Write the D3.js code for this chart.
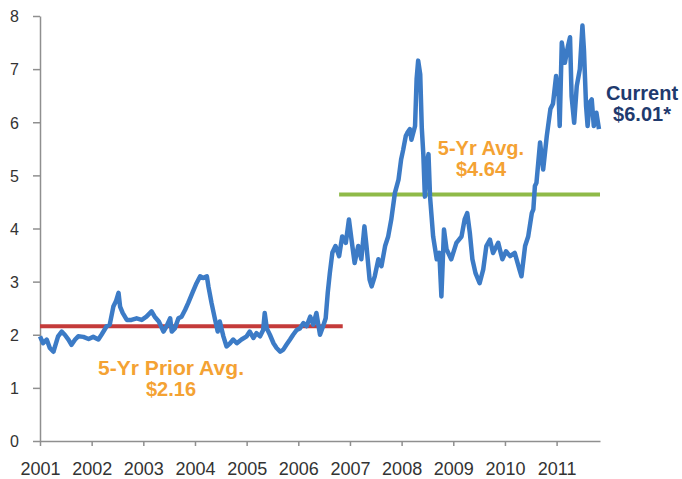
<!DOCTYPE html>
<html>
<head>
<meta charset="utf-8">
<script src="https://cdn.jsdelivr.net/npm/d3@7.9.0/dist/d3.min.js"></script>
<style>
  html, body { margin: 0; padding: 0; background: #fff; }
  svg { display: block; font-family: "Liberation Sans", Arial, sans-serif; }
  .axis path, .axis line { stroke: #8f8f8f; stroke-width: 1.5; }
  .axis text { fill: #333; }
</style>
</head>
<body>
<svg id="chart" width="682" height="479"></svg>
<script>
// price series (decimal year, $)
const years = [
  2001.00, 2001.06, 2001.13, 2001.19, 2001.26, 2001.30, 2001.35, 2001.42, 2001.48, 2001.55,
  2001.61, 2001.68, 2001.74, 2001.84, 2001.94, 2002.03, 2002.13, 2002.19, 2002.29, 2002.35,
  2002.42, 2002.47, 2002.52, 2002.55, 2002.60, 2002.68, 2002.77, 2002.87, 2002.97, 2003.06,
  2003.16, 2003.22, 2003.30, 2003.39, 2003.45, 2003.52, 2003.55, 2003.61, 2003.68, 2003.74,
  2003.81, 2003.87, 2003.95, 2004.03, 2004.10, 2004.16, 2004.23, 2004.26, 2004.32, 2004.39,
  2004.44, 2004.48, 2004.55, 2004.61, 2004.68, 2004.74, 2004.81, 2004.90, 2005.00, 2005.06,
  2005.13, 2005.19, 2005.26, 2005.32, 2005.35, 2005.39, 2005.45, 2005.52, 2005.58, 2005.65,
  2005.71, 2005.77, 2005.84, 2005.90, 2005.97, 2006.03, 2006.10, 2006.16, 2006.23, 2006.29,
  2006.35, 2006.42, 2006.48, 2006.53, 2006.57, 2006.61, 2006.66, 2006.72, 2006.79, 2006.85,
  2006.92, 2006.98, 2007.03, 2007.09, 2007.16, 2007.22, 2007.28, 2007.32, 2007.38, 2007.42,
  2007.48, 2007.55, 2007.61, 2007.68, 2007.74, 2007.80, 2007.87, 2007.94, 2007.99, 2008.03,
  2008.08, 2008.11, 2008.16, 2008.19, 2008.26, 2008.29, 2008.32, 2008.36, 2008.39, 2008.42,
  2008.45, 2008.48, 2008.52, 2008.55, 2008.61, 2008.68, 2008.73, 2008.77, 2008.82, 2008.87,
  2008.96, 2009.06, 2009.16, 2009.22, 2009.27, 2009.32, 2009.37, 2009.43, 2009.51, 2009.58,
  2009.64, 2009.71, 2009.77, 2009.87, 2009.95, 2010.02, 2010.10, 2010.19, 2010.28, 2010.32,
  2010.39, 2010.45, 2010.52, 2010.55, 2010.58, 2010.61, 2010.68, 2010.74, 2010.81, 2010.88,
  2010.93, 2010.99, 2011.04, 2011.06, 2011.10, 2011.16, 2011.22, 2011.26, 2011.29, 2011.34,
  2011.39, 2011.45, 2011.50, 2011.53, 2011.57, 2011.60, 2011.64, 2011.68, 2011.72, 2011.77,
  2011.82
];
const prices = [
  1.97, 1.84, 1.91, 1.75, 1.68, 1.81, 1.97, 2.06, 2.00, 1.91,
  1.81, 1.91, 1.97, 1.96, 1.92, 1.96, 1.91, 2.00, 2.16, 2.19,
  2.53, 2.63, 2.79, 2.53, 2.41, 2.28, 2.28, 2.31, 2.28, 2.34,
  2.44, 2.34, 2.25, 2.06, 2.16, 2.31, 2.06, 2.12, 2.31, 2.34,
  2.47, 2.60, 2.79, 2.97, 3.10, 3.07, 3.10, 2.91, 2.60, 2.28,
  2.06, 2.25, 1.97, 1.78, 1.84, 1.91, 1.84, 1.91, 1.97, 2.06,
  1.94, 2.03, 1.97, 2.09, 2.41, 2.12, 2.00, 1.84, 1.75, 1.68,
  1.72, 1.81, 1.91, 2.00, 2.09, 2.12, 2.22, 2.16, 2.34, 2.19,
  2.41, 2.00, 2.16, 2.31, 2.79, 3.16, 3.55, 3.67, 3.48, 3.85,
  3.73, 4.17, 3.79, 3.35, 3.67, 3.42, 4.04, 3.67, 3.04, 2.91,
  3.10, 3.42, 3.29, 3.67, 3.85, 4.17, 4.67, 4.92, 5.30, 5.48,
  5.74, 5.80, 5.87, 5.67, 5.93, 6.81, 7.16, 6.90, 5.90, 5.40,
  4.60, 5.20, 5.40, 4.60, 3.85, 3.42, 3.54, 2.72, 3.98, 3.61,
  3.42, 3.73, 3.85, 4.17, 4.29, 3.92, 3.42, 3.16, 2.97, 3.23,
  3.67, 3.79, 3.54, 3.73, 3.42, 3.57, 3.48, 3.54, 3.23, 3.10,
  3.67, 3.85, 4.29, 4.36, 4.80, 4.86, 5.62, 5.11, 5.74, 6.25,
  6.35, 6.87, 6.48, 5.93, 7.50, 7.12, 7.43, 7.60, 6.49, 5.99,
  6.68, 7.00, 7.82, 7.35, 6.31, 5.93, 6.37, 6.43, 5.93, 6.18,
  5.87
];

const xTickYears = [2001, 2002, 2003, 2004, 2005, 2006, 2007, 2008, 2009, 2010, 2011];
const yTickValues = [0, 1, 2, 3, 4, 5, 6, 7, 8];

// average reference lines: [start, end, value]
const priorAvg = [2001.0, 2006.86, 2.16];
const recentAvg = [2006.79, 2011.84, 4.64];

const svg = d3.select('#chart');

const x = d3.scaleLinear().domain([2001, 2011.84]).range([40, 600]);
const y = d3.scaleLinear().domain([0, 8]).range([441, 16]);

// axes
const xAxis = svg.append('g')
  .attr('class', 'axis')
  .attr('transform', `translate(0,${y(0)})`)
  .call(d3.axisBottom(x).tickValues(xTickYears).tickFormat(d3.format('d')).tickSize(5).tickSizeOuter(0));
xAxis.selectAll('text').attr('y', 34).attr('dy', 0).style('font-size', '18px');

const yAxis = svg.append('g')
  .attr('class', 'axis')
  .attr('transform', `translate(${x(2001)},0)`)
  .call(d3.axisLeft(y).tickValues(yTickValues).tickSize(7).tickSizeOuter(0).tickPadding(14));
yAxis.selectAll('text').attr('dy', '0.36em').style('font-size', '16px');

// average lines
svg.append('line')
  .attr('x1', x(priorAvg[0])).attr('x2', x(priorAvg[1]))
  .attr('y1', y(priorAvg[2])).attr('y2', y(priorAvg[2]))
  .attr('stroke', '#c43b3a').attr('stroke-width', 4);

svg.append('line')
  .attr('x1', x(recentAvg[0])).attr('x2', x(recentAvg[1]))
  .attr('y1', y(recentAvg[2])).attr('y2', y(recentAvg[2]))
  .attr('stroke', '#8fba48').attr('stroke-width', 4);

// price line
const series = years.map((yr, i) => [yr, prices[i]]);
svg.append('path')
  .datum(series)
  .attr('fill', 'none')
  .attr('stroke', '#3c7bc6')
  .attr('stroke-width', 4.5)
  .attr('stroke-linejoin', 'round')
  .attr('d', d3.line().x((d) => x(d[0])).y((d) => y(d[1])));

// annotations
function label(lines, cx, baseline, color, widths) {
  const t = svg.append('text')
    .attr('text-anchor', 'middle')
    .attr('fill', color)
    .style('font-size', '20px')
    .style('font-weight', 'bold');
  lines.forEach((s, i) => {
    const ts = t.append('tspan').attr('x', cx).attr('y', baseline + i * 21).text(s);
    if (widths && widths[i]) ts.attr('textLength', widths[i]).attr('lengthAdjust', 'spacingAndGlyphs');
  });
}

label(['5-Yr Prior Avg.', '$2.16'], 171, 375, '#f4a233', [146, null]);
label(['5-Yr Avg.', '$4.64'], 481, 155, '#f4a233');
label(['Current', '$6.01*'], 642, 100, '#1f3a6e');
</script>
</body>
</html>
